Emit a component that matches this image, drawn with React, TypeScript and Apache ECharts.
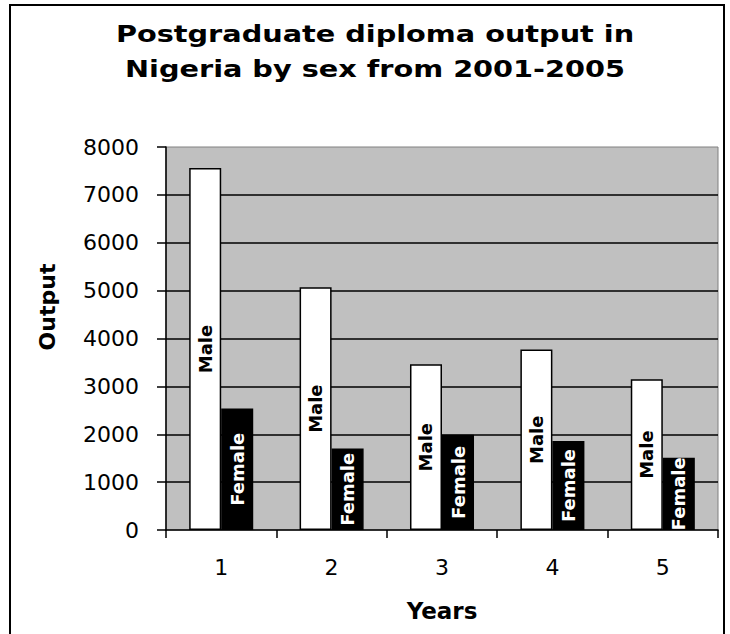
import React, { useEffect, useRef } from "react";
import * as echarts from "echarts";

const years = ["1", "2", "3", "4", "5"];
const maleOutput = [7560, 5070, 3460, 3770, 3150];
const femaleOutput = [2540, 1700, 1990, 1860, 1510];
const titleText = "Postgraduate diploma output in\nNigeria by sex from 2001-2005";

const FONT = "DejaVu Sans";

export default function App() {
  const ref = useRef<HTMLDivElement>(null);

  useEffect(() => {
    document.body.style.margin = "0";
    if (!ref.current) return;
    const chart = echarts.init(ref.current, null, { renderer: "svg" });
    chart.setOption({
      animation: false,
      backgroundColor: "#ffffff",
      graphic: [
        {
          type: "rect",
          shape: { x: 10, y: 5, width: 714, height: 700 },
          style: { fill: "none", stroke: "#000", lineWidth: 2 },
          silent: true,
        },
        {
          // chart title, stretched a little wider than the face's natural width
          type: "text",
          x: 375,
          y: 17,
          scaleX: 1.25,
          style: {
            text: titleText,
            fontFamily: FONT,
            fontWeight: "bold",
            fontSize: 23,
            lineHeight: 35,
            fill: "#000",
            align: "center",
            verticalAlign: "top",
          },
        },
        {
          type: "text",
          x: 47,
          y: 307,
          rotation: Math.PI / 2,
          style: {
            text: "Output",
            fontFamily: FONT,
            fontWeight: "bold",
            fontSize: 22,
            fill: "#000",
            align: "center",
            verticalAlign: "middle",
          },
        },
      ],
      grid: {
        left: 166,
        right: 12,
        top: 147,
        bottom: 104,
        show: true,
        backgroundColor: "#c0c0c0",
        borderColor: "#808080",
        borderWidth: 1,
      },
      xAxis: {
        type: "category",
        data: years,
        name: "Years",
        nameLocation: "middle",
        nameGap: 69,
        nameTextStyle: {
          fontFamily: FONT,
          fontWeight: "bold",
          fontSize: 23,
          color: "#000",
        },
        axisLine: { lineStyle: { color: "#000", width: 1.5 } },
        axisTick: { show: true, length: 8, lineStyle: { color: "#000", width: 1.5 } },
        axisLabel: {
          margin: 26,
          fontFamily: FONT,
          fontSize: 22,
          color: "#000",
        },
      },
      yAxis: {
        type: "value",
        min: 0,
        max: 8000,
        interval: 1000,
        axisLine: { show: true, lineStyle: { color: "#000", width: 1.5 } },
        axisTick: { show: true, length: 9, lineStyle: { color: "#000", width: 1.5 } },
        axisLabel: {
          margin: 27,
          fontFamily: FONT,
          fontSize: 22,
          color: "#000",
          formatter: (v: number) => String(v),
        },
        splitLine: {
          show: true,
          showMinLine: false,
          showMaxLine: false,
          lineStyle: { color: "#000", width: 1.5 },
        },
      },
      series: [
        {
          name: "Male",
          type: "bar",
          data: maleOutput,
          barGap: "0%",
          barCategoryGap: "42%",
          itemStyle: { color: "#ffffff", borderColor: "#000", borderWidth: 1.5 },
          label: {
            show: true,
            position: "inside",
            rotate: 90,
            formatter: "Male",
            fontFamily: FONT,
            fontWeight: "bold",
            fontSize: 18,
            color: "#000",
          },
        },
        {
          name: "Female",
          type: "bar",
          data: femaleOutput,
          itemStyle: { color: "#000000", borderColor: "#000", borderWidth: 1.5 },
          label: {
            show: true,
            position: "inside",
            rotate: 90,
            formatter: "Female",
            fontFamily: FONT,
            fontWeight: "bold",
            fontSize: 18,
            color: "#fff",
          },
        },
      ],
    });
    return () => chart.dispose();
  }, []);

  return <div ref={ref} style={{ width: 730, height: 634 }} />;
}
